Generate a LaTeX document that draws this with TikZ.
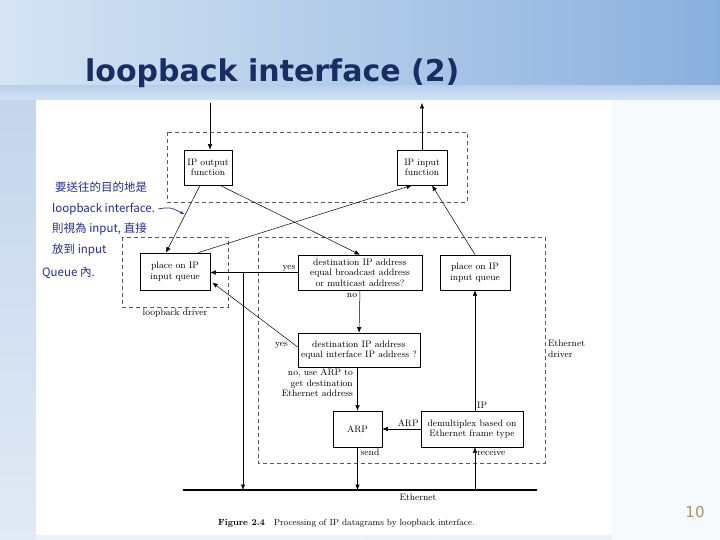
\documentclass[tikz,border=0pt]{standalone}
\usepackage{fontspec}
\newfontfamily\titlefont{DejaVu Sans}
\newfontfamily\cjk{Noto Sans CJK TC}
\usetikzlibrary{arrows.meta,calc}
\definecolor{navy}{RGB}{26,44,100}
\definecolor{hdrL}{RGB}{214,228,243}
\definecolor{hdrR}{RGB}{138,176,222}
\definecolor{paleBg}{RGB}{236,242,250}
\definecolor{stripTop}{RGB}{196,214,236}
\definecolor{stripBot}{RGB}{226,234,245}
\definecolor{pen}{RGB}{35,45,150}
\definecolor{pagenum}{RGB}{168,148,100}
\definecolor{dashgray}{RGB}{90,90,90}
\newcommand\dg{\fontsize{9.3}{10.4}\selectfont}
\begin{document}
\begin{tikzpicture}[x=1pt,y=-1pt,
  box/.style={draw, line width=0.6pt, fill=white, align=center, font=\dg, inner sep=1pt},
  grp/.style={draw=dashgray, dash pattern=on 4pt off 3pt, line width=0.5pt},
  arr/.style={-{Latex[length=5.5pt,width=4.5pt]}, line width=0.5pt},
  lbl/.style={font=\dg, inner sep=1pt},
  hand/.style={font=\cjk\fontsize{11.5}{12}\selectfont, text=pen, inner sep=0pt, anchor=base west}]
\useasboundingbox (0,0) rectangle (720,540);
% backgrounds
\fill[paleBg] (0,0) rectangle (720,540);
\shade[top color=stripTop, bottom color=stripBot] (0,100) rectangle (36,540);
\fill[white!60!paleBg] (612,100) rectangle (720,540);
\shade[left color=hdrL, right color=hdrR] (0,0) rectangle (720,100);
\shade[top color=hdrR!60!white, bottom color=hdrL] (0,86) rectangle (720,100);
\foreach \r in {60,90,120,150,180,210,240} {
  \draw[white, opacity=0.25, line width=0.8pt] (560,180) ++(180:\r+200) arc[start angle=180, end angle=90, radius=\r+200];
}
\fill[white] (36,100) rectangle (612,535);
% title
\node[font=\titlefont\bfseries\fontsize{30}{32}\selectfont, text=navy, anchor=base west, inner sep=0pt] (title) at (85,82) {loopback interface (2)};
% page number
\node[font=\titlefont\fontsize{15}{16}\selectfont, text=pagenum] (pnum) at (695,512) {10};
% dashed groups
\draw[grp] (167,132) rectangle (467,202);
\draw[grp] (122,237) rectangle (228,307);
\draw[grp] (258,237) rectangle (545,463);
\node[lbl] (lbdrv) at (175,313) {loopback driver};
\node[lbl, align=left, anchor=north west] (ethdrv) at (547,339) {Ethernet\\driver};
% boxes
\node[box, minimum width=48, minimum height=35] (ipout) at (208,167.5) {IP output\\function};
\node[box, minimum width=50, minimum height=35] (ipin) at (422,167.5) {IP input\\function};
\node[box, minimum width=70, minimum height=37] (lq) at (175,271.5) {place on IP\\input queue};
\node[box, minimum width=124, minimum height=35] (bc) at (360,272.5) {destination IP address\\equal broadcast address\\or multicast address?};
\node[box, minimum width=70, minimum height=35] (rq) at (475,272.5) {place on IP\\input queue};
\node[box, minimum width=122, minimum height=34] (ifc) at (359,350) {destination IP address\\equal interface IP address ?};
\node[box, minimum width=49, minimum height=36] (arp) at (357.5,429) {ARP};
\node[box, minimum width=102, minimum height=36] (dmx) at (472,429) {demultiplex based on\\Ethernet frame type};
% Ethernet
\coordinate (eL) at (183,490);
\coordinate (eR) at (537,490);
\draw[line width=1.8pt] (eL) -- (eR);
\node[lbl] (ethlbl) at (418,497) {Ethernet};
% top arrows
\coordinate (topin) at (210,103);
\coordinate (topout) at (422,103);
\draw[arr] (topin) -- (topin |- ipout.north);
\draw[arr] (ipin.north) -- (topout);
% crossing arrows
\draw[arr] ([xshift=-8pt]ipout.south) -- ([xshift=-9pt]lq.north);
\draw[arr] ([xshift=12pt]ipout.south) -- (bc.north);
\draw[arr] ([xshift=23pt]lq.north) -- ([xshift=-10pt]ipin.south);
\draw[arr] (rq.north) -- ([xshift=10pt]ipin.south);
% yes from broadcast
\draw[arr] (bc.west) -- (bc.west -| lq.east);
\node[lbl, anchor=south east] (yes1) at ([xshift=-1pt,yshift=0pt]bc.west) {yes};
\coordinate (sp) at (243,272.5);
\draw[arr] (sp) -- (sp |- eL);
% no from broadcast
\draw[arr] (bc.south) -- (ifc.north);
\node[lbl, anchor=north] (no1) at (352,292) {no};
% yes from interface
\draw[arr] ([yshift=3pt]ifc.west) -- ([xshift=2pt,yshift=-11pt]lq.east);
\node[lbl, anchor=east] (yes2) at (289,345) {yes};
% no to ARP
\draw[arr] (ifc.south) -- (arp.north |- ifc.south) -- (arp.north);
\node[lbl, align=right, anchor=north east] (nolbl) at (354,368) {no, use ARP to\\get destination\\Ethernet address};
% send
\draw[arr] (arp.south) -- (arp.south |- eL);
\node[lbl, anchor=north west] (send) at ([xshift=2pt,yshift=-1pt]arp.south) {send};
% receive
\coordinate (rcv) at (rq.south |- eL);
\draw[arr] (rcv) -- (rcv |- dmx.south);
\node[lbl, anchor=north west] (receive) at ([xshift=1pt,yshift=-1pt]rcv |- dmx.south) {receive};
% IP up
\draw[arr] (rq.south |- dmx.north) -- (rq.south);
\node[lbl, anchor=south west] (iplbl) at ([xshift=1pt,yshift=1pt]rq.south |- dmx.north) {IP};
% ARP left
\draw[arr] (dmx.west) -- (arp.east);
\node[lbl, anchor=south east] (arplbl) at ([xshift=-1pt,yshift=1pt]dmx.west) {ARP};
% caption
\node[font=\fontsize{8.9}{10}\selectfont, anchor=base west, inner sep=0pt] (cap) at (218,525) {\textbf{Figure 2.4}\quad Processing of IP datagrams by loopback interface.};
% handwriting
\node[hand] (h1) at (55,192) {要送往的目的地是};
\node[hand] (h2) at (52,212) {loopback interface.};
\node[hand] (h3) at (52,233) {則視為 input, 直接};
\node[hand] (h4) at (52,254) {放到 input};
\node[hand] (h5) at (42,276) {Queue 內.};
\coordinate (ha) at (158,209);
\coordinate (hb) at (184,214);
\draw[pen, line width=0.7pt, -{Stealth[length=4pt]}] (ha) .. controls (170,207) .. (hb);
\end{tikzpicture}
\end{document}
